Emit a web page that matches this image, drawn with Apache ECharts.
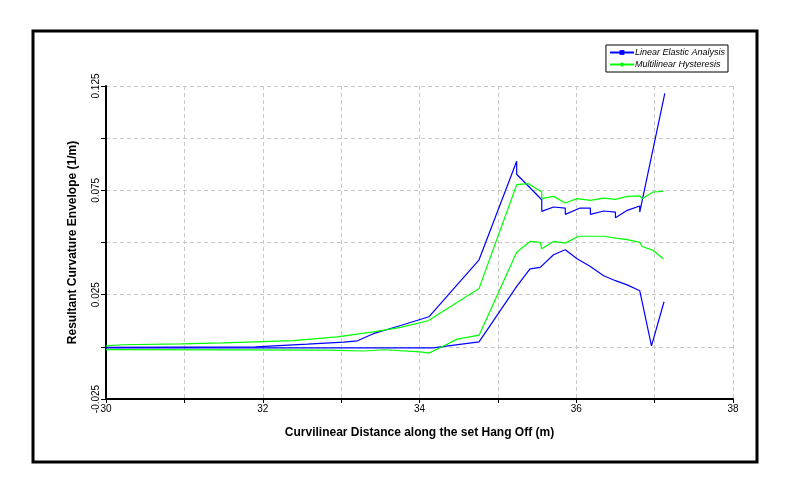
<!DOCTYPE html>
<html>
<head>
<meta charset="utf-8">
<script src="https://cdn.jsdelivr.net/npm/echarts@6/dist/echarts.min.js"></script>
<style>
  html, body { margin: 0; padding: 0; background: #fff; }
  #chart { width: 788px; height: 494px; }
</style>
</head>
<body>
<div id="chart"></div>
<script>
  // envelope curves: [distance (m), curvature (1/m)]
  var linearMax = [
      [30.0, -0.0003], [31.91, 0.0], [32.57, 0.0013], [33.03, 0.0023], [33.21, 0.0029],
      [33.41, 0.0063], [33.76, 0.0102], [34.12, 0.0144], [34.76, 0.0417], [35.24, 0.0889],
      [35.24, 0.0827], [35.56, 0.0705], [35.56, 0.0649], [35.71, 0.067], [35.86, 0.0665],
      [35.86, 0.0635], [36.05, 0.0665], [36.18, 0.0665], [36.18, 0.0635], [36.35, 0.0651],
      [36.5, 0.0646], [36.5, 0.0619], [36.65, 0.0654], [36.81, 0.0675], [36.81, 0.0646],
      [37.13, 0.1215]
  ];
  var linearMin = [
      [30.0, -0.0005], [34.18, -0.0005], [34.27, 0.0], [34.76, 0.0024], [35.24, 0.029],
      [35.41, 0.0374], [35.54, 0.0381], [35.56, 0.0374], [35.71, 0.0441], [35.86, 0.0465],
      [36.01, 0.0422], [36.18, 0.0385], [36.35, 0.0341], [36.5, 0.0317], [36.65, 0.0297],
      [36.81, 0.0269], [36.96, 0.0005], [37.12, 0.0216]
  ];
  var multiMax = [
      [30.0, 0.0005], [30.21, 0.001], [30.96, 0.0014], [31.49, 0.0019], [31.91, 0.0024],
      [32.39, 0.003], [32.95, 0.0048], [33.41, 0.0072], [33.76, 0.0093], [34.11, 0.0125],
      [34.76, 0.028], [35.24, 0.0777], [35.39, 0.0782], [35.56, 0.0742], [35.56, 0.071],
      [35.71, 0.0721], [35.86, 0.0689], [36.01, 0.071], [36.18, 0.0702], [36.35, 0.0713],
      [36.5, 0.0707], [36.65, 0.0721], [36.81, 0.0723], [36.84, 0.071], [36.98, 0.0742],
      [37.11, 0.0745]
  ];
  var multiMin = [
      [30.0, -0.0013], [32.82, -0.0016], [32.82, -0.0023], [33.29, -0.002], [33.55, -0.0014],
      [34.01, -0.0024], [34.12, -0.003], [34.27, -0.0003], [34.48, 0.0037], [34.76, 0.0056],
      [35.24, 0.0453], [35.41, 0.0505], [35.54, 0.0501], [35.56, 0.047], [35.71, 0.0505],
      [35.86, 0.0497], [36.03, 0.053], [36.18, 0.053], [36.35, 0.053], [36.5, 0.0521],
      [36.65, 0.0514], [36.81, 0.0501], [36.84, 0.0481], [36.98, 0.0462], [37.11, 0.0422]
  ];
  var seriesNames = ['Linear Elastic Analysis', 'Multilinear Hysteresis'];

  var font = 'Liberation Sans';
  var myChart = echarts.init(document.getElementById('chart'));

  function envelope(name, data, color, symbol) {
      return {
          name: name,
          type: 'line',
          data: data,
          symbol: symbol,
          symbolSize: 6,
          showSymbol: false,
          animation: false,
          lineStyle: { color: color, width: 1.2 },
          itemStyle: { color: color }
      };
  }

  var option = {
      backgroundColor: '#fff',
      graphic: [{
          type: 'rect',
          shape: { x: 33, y: 31, width: 724, height: 431 },
          style: { fill: 'none', stroke: '#000', lineWidth: 3 },
          z: -1
      }],
      legend: {
          data: seriesNames,
          orient: 'vertical',
          right: 60,
          top: 45,
          itemWidth: 24,
          itemHeight: 6,
          itemGap: 3,
          padding: [3, 3, 3, 3],
          borderColor: '#000',
          borderWidth: 1,
          borderRadius: 0,
          textStyle: { fontFamily: font, fontSize: 9, fontStyle: 'italic', color: '#000', padding: [0, 0, 0, -4] }
      },
      grid: { left: 106, right: 55, top: 86, bottom: 95 },
      xAxis: {
          type: 'value',
          min: 30,
          max: 38,
          interval: 1,
          name: 'Curvilinear Distance along the set Hang Off (m)',
          nameLocation: 'middle',
          nameGap: 28,
          nameTextStyle: { fontFamily: font, fontSize: 12, fontWeight: 'bold', color: '#000' },
          axisLine: { onZero: false, lineStyle: { color: '#000', width: 2 } },
          axisTick: { show: true, length: 4, lineStyle: { color: '#000' } },
          axisLabel: {
              fontFamily: font, fontSize: 10, color: '#000', margin: 5,
              formatter: function (v) { return v % 2 === 0 ? String(v) : ''; }
          },
          splitLine: { show: true, lineStyle: { color: '#c8c8c8', type: [4, 3] } }
      },
      yAxis: {
          type: 'value',
          min: -0.025,
          max: 0.125,
          interval: 0.025,
          name: 'Resultant Curvature Envelope (1/m)',
          nameLocation: 'middle',
          nameGap: 27,
          nameTextStyle: { fontFamily: font, fontSize: 12, fontWeight: 'bold', color: '#000' },
          axisLine: { onZero: false, lineStyle: { color: '#000', width: 2 } },
          axisTick: { show: true, length: 5, lineStyle: { color: '#000' } },
          axisLabel: {
              fontFamily: font, fontSize: 10, color: '#000', rotate: 90, margin: 5,
              formatter: function (v) {
                  var k = Math.round(v / 0.025);
                  return Math.abs(k % 2) === 1 ? v.toFixed(3) : '';
              }
          },
          splitLine: { show: true, lineStyle: { color: '#c8c8c8', type: [4, 3] } }
      },
      series: [
          envelope(seriesNames[0], linearMax, '#0000ff', 'rect'),
          envelope(seriesNames[0], linearMin, '#0000ff', 'rect'),
          envelope(seriesNames[1], multiMax, '#00ff00', 'diamond'),
          envelope(seriesNames[1], multiMin, '#00ff00', 'diamond')
      ]
  };

  myChart.setOption(option);
</script>
</body>
</html>
